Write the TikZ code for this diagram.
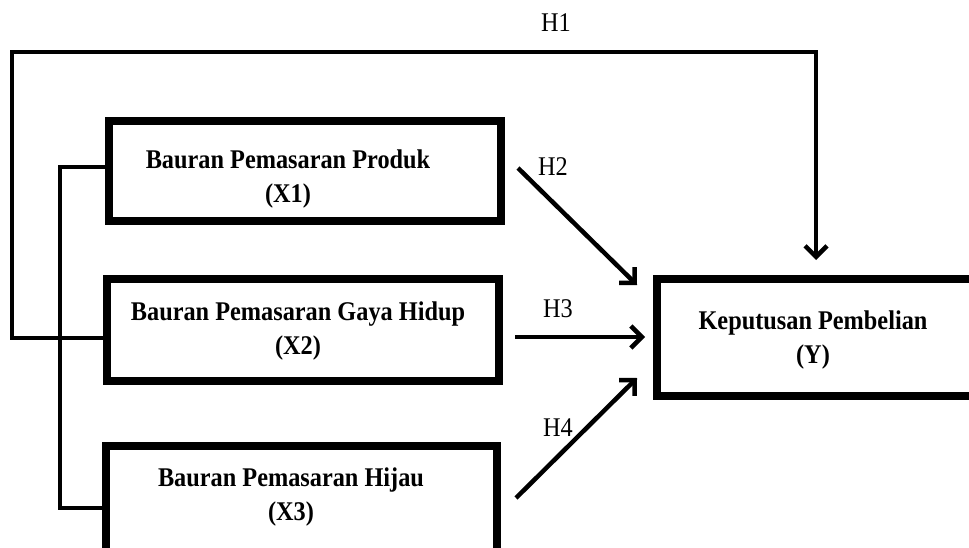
\documentclass[tikz,border=0pt]{standalone}
\usepackage{fontspec}
\setmainfont{Liberation Serif}
\newfontfamily\condserif[FakeStretch=0.9]{Liberation Serif}
\usetikzlibrary{arrows.meta}
\begin{document}
\begin{tikzpicture}[x=1pt,y=-1pt,
  box/.style={draw,line width=8pt,minimum width=#1,inner sep=0pt},
  boxtext/.style={font=\condserif\fontsize{27}{34}\selectfont\bfseries,align=center,inner sep=0pt},
  hlabel/.style={font=\condserif\fontsize{27}{30}\selectfont,inner sep=0pt},
  conn/.style={line width=4.5pt},
  arr/.style={line width=4.5pt,-{Straight Barb[length=11pt,width=22pt]}}]
\useasboundingbox (0,0) rectangle (969,548);
\clip (0,0) rectangle (969,548);
% boxes
\node[box=392pt,minimum height=100pt] (x1) at (305,171) {};
\node[box=392pt,minimum height=102pt] (x2) at (303,330) {};
\node[box=391pt,minimum height=106pt] (x3) at (301.5,499) {};
\node[box=318pt,minimum height=117pt] (y) at (816,337.5) {};
% texts
\node[boxtext] (x1t) at (288,179) {Bauran Pemasaran Produk\\(X1)};
\node[boxtext] (x2t) at (298,331.5) {Bauran Pemasaran Gaya Hidup\\(X2)};
\node[boxtext] (x3t) at (291,497) {Bauran Pemasaran Hijau\\(X3)};
\node[boxtext] (yt) at (813,340) {Keputusan Pembelian\\(Y)};
% labels
\node[hlabel] (h1) at (556,22.5) {H1};
\node[hlabel] (h2) at (553,167) {H2};
\node[hlabel] (h3) at (558,309) {H3};
\node[hlabel] (h4) at (558,428) {H4};
% coordinates
\coordinate (h1a) at (12,338);
\coordinate (h1b) at (12,52);
\coordinate (h1c) at (816,52);
\coordinate (b1) at (60,167);
\coordinate (b2) at (60,508);
\coordinate (h2s) at (518,168);
\coordinate (h2e) at (637,285);
\coordinate (h3s) at (515,337);
\coordinate (h3e) at (645,337);
\coordinate (h4s) at (516,498);
\coordinate (h4e) at (637,378);
% H1 connector
\draw[arr,line join=miter] (x2.west |- h1a) -- (h1a) -- (h1b) -- (h1c) -- ([yshift=15pt]y.north -| h1c);
% bracket X1 - X3
\draw[conn,line join=miter] (x1.west |- b1) -- (b1) -- (b2) -- (x3.west |- b2);
% H2, H3, H4
\draw[arr] (h2s) -- (h2e);
\draw[arr] (h3s) -- (h3e);
\draw[arr] (h4s) -- (h4e);
\end{tikzpicture}
\end{document}
